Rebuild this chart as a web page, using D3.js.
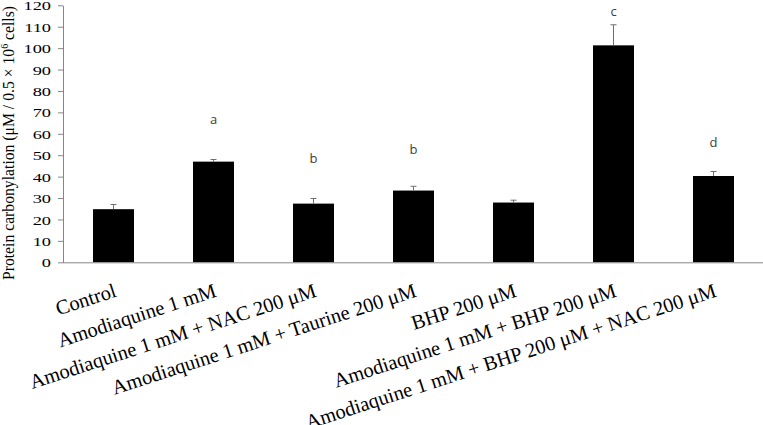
<!DOCTYPE html>
<html>
<head>
<meta charset="utf-8">
<script src="https://cdn.jsdelivr.net/npm/d3@7"></script>
<style>
  body { margin: 0; background: #fff; }
  svg { display: block; }
</style>
</head>
<body>
<div id="chart"></div>
<script>
// data
var groups = [
    "Control",
    "Amodiaquine 1 mM",
    "Amodiaquine 1 mM + NAC 200 \u03bcM",
    "Amodiaquine 1 mM + Taurine 200 \u03bcM",
    "BHP 200 \u03bcM",
    "Amodiaquine 1 mM + BHP 200 \u03bcM",
    "Amodiaquine 1 mM + BHP 200 \u03bcM + NAC 200 \u03bcM"
];
var means = [24.8, 47.0, 27.4, 33.5, 27.9, 101.3, 40.3];
var errors = [2.2, 1.0, 2.4, 2.0, 1.1, 9.6, 2.1];
var letters = ["", "a", "b", "b", "", "c", "d"];
var letterAt = [null, 66.5, 48, 52.5, null, 117, 55.5]; // in y units
var yTicks = d3.range(0, 121, 10);

var width = 763, height = 425;
var margin = {top: 5.3, right: 0, bottom: 162.7, left: 63};
var w = width - margin.left - margin.right;
var h = height - margin.top - margin.bottom;

var svg = d3.select("#chart").append("svg")
    .attr("width", width)
    .attr("height", height);

var g = svg.append("g")
    .attr("transform", "translate(" + margin.left + "," + margin.top + ")");

var x = d3.scaleBand()
    .domain(groups)
    .range([0.5, 700.5])
    .paddingInner(0.59)
    .paddingOuter(0.295);

var y = d3.scaleLinear()
    .domain([0, 120])
    .range([h, 0]);

var axisColor = "#868686";

// y axis
var yAxis = g.append("g")
    .call(d3.axisLeft(y).tickValues(yTicks).tickSize(5).tickSizeOuter(0).tickPadding(0));
yAxis.select(".domain").attr("stroke", axisColor);
yAxis.selectAll(".tick line").attr("stroke", axisColor);
yAxis.selectAll(".tick text")
    .attr("x", null)
    .attr("dy", null)
    .attr("transform", "translate(-12,4.6) scale(1.36,1)")
    .style("font-family", "'Liberation Serif', 'Times New Roman', serif")
    .style("font-size", "13.5px")
    .attr("fill", "#000");

// bars
g.selectAll(".bar")
    .data(means)
    .enter().append("rect")
    .attr("class", "bar")
    .attr("x", function(d, i) { return x(groups[i]); })
    .attr("width", x.bandwidth())
    .attr("y", function(d) { return y(d); })
    .attr("height", function(d) { return h - y(d); })
    .attr("fill", "#000");

// error bars (upper half)
var errG = g.selectAll(".err")
    .data(means)
    .enter().append("g")
    .attr("class", "err")
    .attr("stroke", "#6f6f6f")
    .attr("stroke-width", 1);

errG.append("line")
    .attr("x1", function(d, i) { return x(groups[i]) + x.bandwidth() / 2; })
    .attr("x2", function(d, i) { return x(groups[i]) + x.bandwidth() / 2; })
    .attr("y1", function(d) { return y(d); })
    .attr("y2", function(d, i) { return y(d + errors[i]); });

errG.append("line")
    .attr("x1", function(d, i) { return x(groups[i]) + x.bandwidth() / 2 - 3; })
    .attr("x2", function(d, i) { return x(groups[i]) + x.bandwidth() / 2 + 3; })
    .attr("y1", function(d, i) { return y(d + errors[i]); })
    .attr("y2", function(d, i) { return y(d + errors[i]); });

// x axis line
g.append("line")
    .attr("x1", 0).attr("x2", w)
    .attr("y1", h + 0.5).attr("y2", h + 0.5)
    .attr("stroke", axisColor);

// significance letters
g.selectAll(".sig")
    .data(letters)
    .enter().append("text")
    .attr("class", "sig")
    .attr("x", function(d, i) { return x(groups[i]) + x.bandwidth() / 2; })
    .attr("y", function(d, i) { return letterAt[i] == null ? 0 : y(letterAt[i]) + 4; })
    .attr("text-anchor", "middle")
    .style("font-family", "'Open Sans', 'Liberation Sans', sans-serif")
    .style("font-size", "13px")
    .attr("fill", "#404040")
    .text(function(d) { return d; });

// category labels, rotated
g.selectAll(".xlabel")
    .data(groups)
    .enter().append("text")
    .attr("class", "xlabel")
    .attr("transform", function(d) {
        return "translate(" + (x(d) + x.bandwidth() / 2 + 4) + "," + (h + 34) + ") rotate(-18)";
    })
    .attr("text-anchor", "end")
    .style("font-family", "'Liberation Serif', 'Times New Roman', serif")
    .style("font-size", "20.4px")
    .attr("fill", "#000")
    .text(function(d) { return d; });

// y title
var title = svg.append("text")
    .attr("transform", "translate(14,143) rotate(-90)")
    .attr("text-anchor", "middle")
    .style("font-family", "'Liberation Serif', 'Times New Roman', serif")
    .style("font-size", "15.7px")
    .attr("fill", "#000");
title.append("tspan").text("Protein carbonylation (\u03bcM / 0.5 \u00d7 10");
title.append("tspan").attr("dy", -6).style("font-size", "10px").text("6");
title.append("tspan").attr("dy", 6).text(" cells)");
</script>
</body>
</html>
